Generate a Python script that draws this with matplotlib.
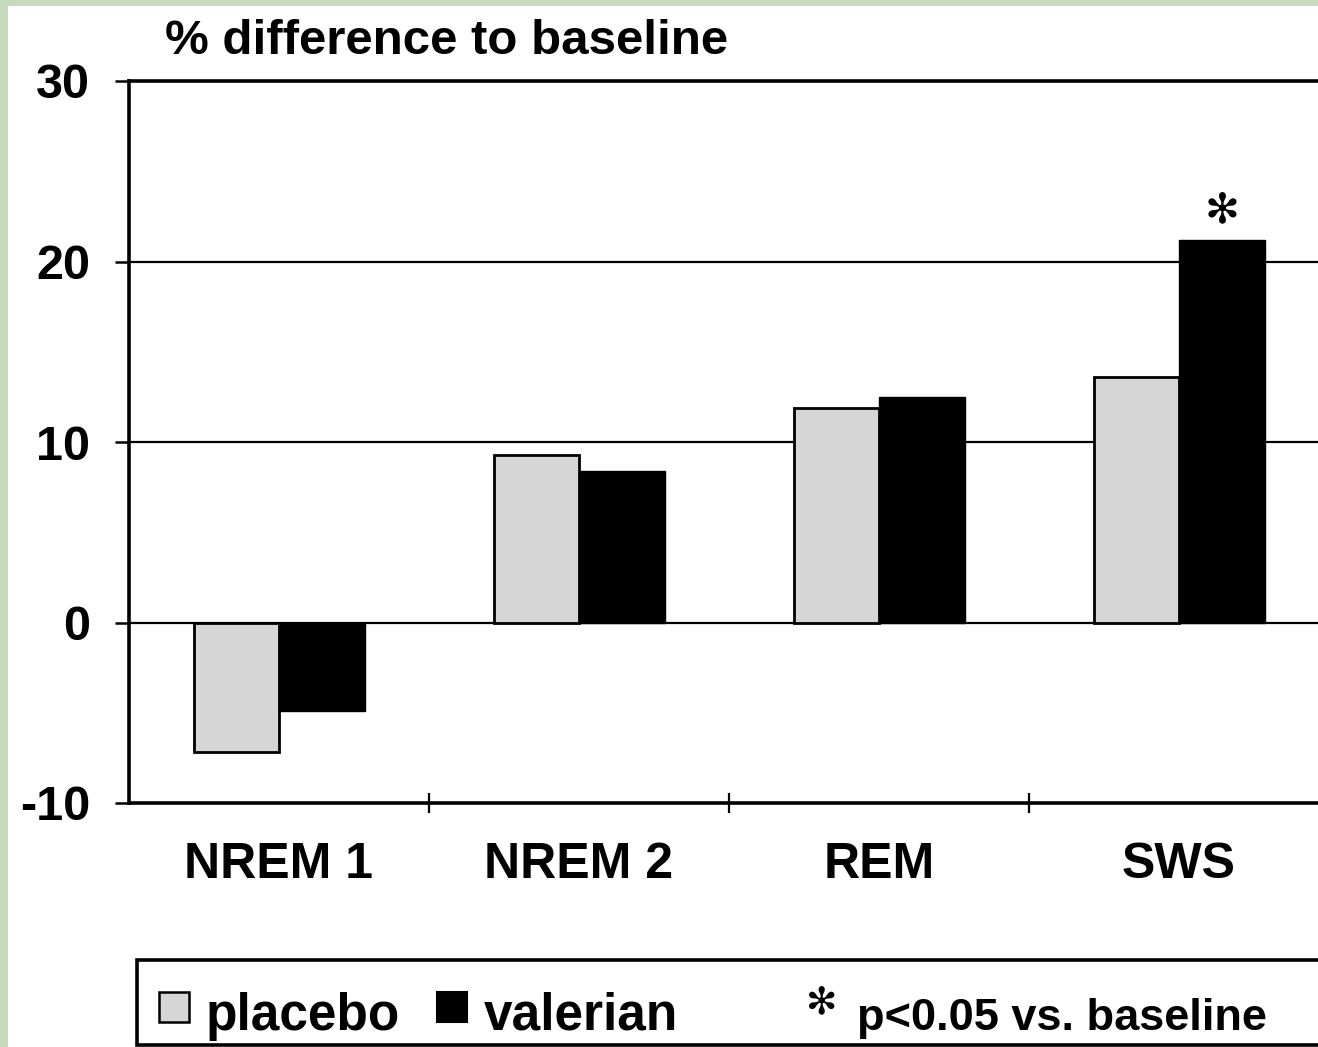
import numpy as np
import matplotlib.pyplot as plt
from matplotlib.patches import Rectangle

plt.rcParams['font.family'] = ['Liberation Sans', 'DejaVu Sans']
plt.rcParams['font.weight'] = 'bold'
plt.rcParams['axes.unicode_minus'] = False

stages = ['NREM 1', 'NREM 2', 'REM', 'SWS']
placebo = [-7.2, 9.3, 11.9, 13.6]
valerian = [-4.9, 8.4, 12.5, 21.2]
significant = [False, False, False, True]

W, H = 1318, 1047
fig = plt.figure(figsize=(W / 100, H / 100), dpi=100)
fig.patch.set_facecolor('#c6dbbd')
# white page on the green slide background
fig.patches.append(Rectangle((8 / W, 0), 1, 1 - 6 / H, transform=fig.transFigure,
                             facecolor='white', edgecolor='none', zorder=-5))

ax = fig.add_axes([129 / W, 244 / H, 1200 / W, 722 / H])
ax.set_zorder(2)
ax.set_facecolor('white')

x = np.arange(len(stages))
bw = 0.285
ax.bar(x - bw / 2, placebo, bw, color='#d6d6d6', edgecolor='black', linewidth=2, zorder=3)
ax.bar(x + bw / 2, valerian, bw, color='black', edgecolor='black', linewidth=1, zorder=3)

for xi, v, s in zip(x, valerian, significant):
    if s:
        ax.text(xi + bw / 2, v + 0.5, '\u273b', family='DejaVu Sans', fontsize=30,
                ha='center', va='bottom', zorder=4)

ax.set_xlim(-0.5, 3.5)
ax.set_ylim(-10, 30)
ax.set_yticks([-10, 0, 10, 20, 30])
for yv in [0, 10, 20]:
    ax.axhline(yv, color='black', linewidth=1.6, zorder=2)

ax.set_xticks(x)
ax.set_xticklabels(stages)
ax.set_xticks(x[:-1] + 0.5, minor=True)
ax.tick_params(axis='x', which='major', length=0, pad=28, labelsize=36)
ax.tick_params(axis='x', which='minor', direction='inout', length=14, width=1.6)
ax.tick_params(axis='y', direction='out', length=10, width=1.8, pad=18, labelsize=35)

for side in ['left', 'bottom', 'top']:
    ax.spines[side].set_linewidth(2.6)
ax.spines['right'].set_visible(False)

fig.text(165 / W, 1 - 41 / H, '% difference to baseline', fontsize=35.5,
         ha='left', va='center')

# legend box along the bottom
fig.patches.append(Rectangle((137 / W, 2 / H), 1, 85 / H, transform=fig.transFigure,
                             facecolor='white', edgecolor='black', linewidth=2.6, zorder=1))
fig.patches.append(Rectangle((159 / W, (H - 1022) / H), 30 / W, 30 / H, transform=fig.transFigure,
                             facecolor='#d6d6d6', edgecolor='black', linewidth=1.8, zorder=2))
fig.patches.append(Rectangle((437 / W, (H - 1022) / H), 30 / W, 30 / H, transform=fig.transFigure,
                             facecolor='black', edgecolor='black', linewidth=1.5, zorder=2))
base = (H - 1030) / H
fig.text(206 / W, base, 'placebo', fontsize=37, ha='left', va='baseline')
fig.text(484 / W, base, 'valerian', fontsize=37, ha='left', va='baseline')
fig.text(822 / W, (H - 1003) / H, '\u273b', family='DejaVu Sans', fontsize=27,
         ha='center', va='center')
fig.text(857 / W, base, 'p<0.05 vs. baseline', fontsize=32.5, ha='left', va='baseline')

fig.savefig('out.png', dpi=100, facecolor=fig.get_facecolor())
